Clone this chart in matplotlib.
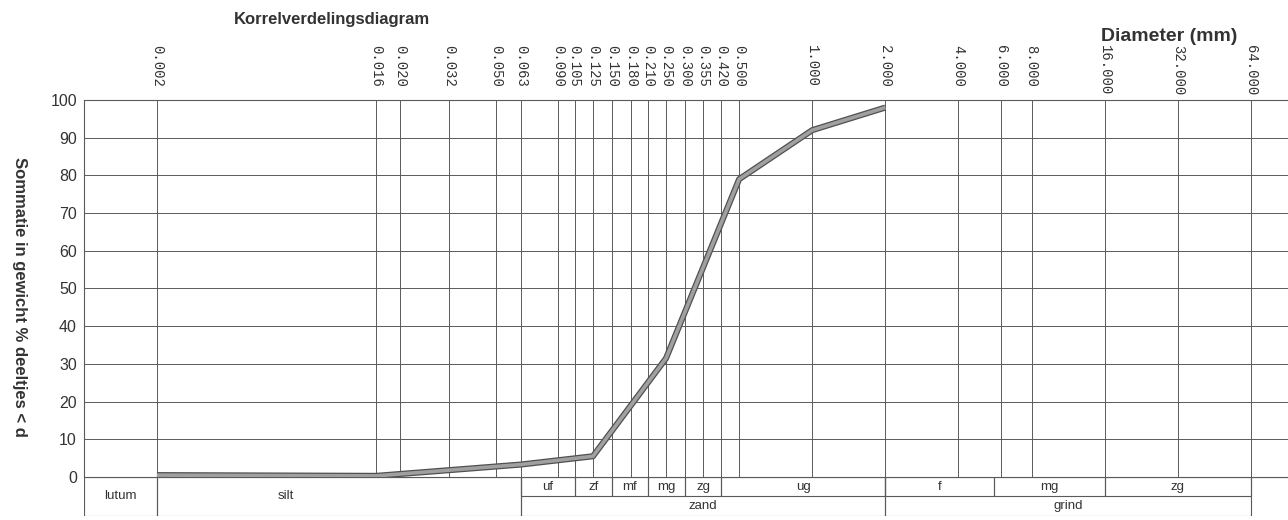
import matplotlib
matplotlib.use("Agg")
import matplotlib.pyplot as plt
import matplotlib.patheffects as pe
import matplotlib.transforms as mtransforms
from matplotlib.ticker import NullLocator

# sieve diameters (mm) and cumulative passing (%)
diameter = [0.002, 0.016, 0.063, 0.125, 0.250, 0.500, 1.000, 2.000]
passing = [0.5, 0.3, 3.3, 5.5, 31.5, 79.0, 92.0, 98.0]

# diameters marked on the grid
grid_d = [0.002, 0.016, 0.020, 0.032, 0.050, 0.063, 0.090, 0.105, 0.125,
          0.150, 0.180, 0.210, 0.250, 0.300, 0.355, 0.420, 0.500, 1.000,
          2.000, 4.000, 6.000, 8.000, 16.000, 32.000, 64.000]
grid_labels = ["%.3f" % d for d in grid_d]

# soil class table (NEN 5104): name, lower, upper, text position
full_cells = [("lutum", 0.001, 0.002, 0.00141), ("silt", 0.002, 0.063, 0.0068)]
sub_cells = [("uf", 0.063, 0.105, None), ("zf", 0.105, 0.150, None),
             ("mf", 0.150, 0.210, None), ("mg", 0.210, 0.300, None),
             ("zg", 0.300, 0.420, None), ("ug", 0.420, 2.0, None),
             ("f", 2.0, 5.6, None), ("mg", 5.6, 16.0, None), ("zg", 16.0, 64.0, None)]
main_cells = [("zand", 0.063, 2.0, None), ("grind", 2.0, 64.0, None)]

txt = "#333333"
line_c = "#5a5a5a"
xmin, xmax = 0.001, 91.1

fig = plt.figure(figsize=(12.88, 5.2), dpi=100)
ax = fig.add_axes([0.0651, 0.0827, 0.9349, 0.725])
ax.set_xscale("log")
ax.set_xlim(xmin, xmax)
ax.set_ylim(0, 100)

ax.set_xticks(grid_d)
ax.xaxis.set_minor_locator(NullLocator())
ax.tick_params(axis="x", length=0, labelbottom=False, labeltop=False)
ax.set_yticks(range(0, 101, 10))
ax.tick_params(axis="y", length=0, pad=5, labelsize=11.5, labelcolor=txt)
for lab in ax.get_yticklabels():
    lab.set_fontfamily("Liberation Sans")
ax.grid(True, color=line_c, linewidth=0.7)
for side in ["left", "top", "bottom"]:
    ax.spines[side].set_color(line_c)
    ax.spines[side].set_linewidth(0.8)
ax.spines["right"].set_visible(False)

ax.plot(diameter, passing, color="#a0a0a0", linewidth=2.6, zorder=5,
        solid_capstyle="butt",
        path_effects=[pe.Stroke(linewidth=4.4, foreground="#505050"), pe.Normal()])

# rotated diameter labels along the top
trans = mtransforms.blended_transform_factory(ax.transData, fig.transFigure)
for d, lab in zip(grid_d, grid_labels):
    ax.text(d, 0.913, lab, transform=trans, rotation=270, ha="center", va="top",
            family="Liberation Mono", fontsize=10, color=txt)

fig.text(0.258, 0.962, "Korrelverdelingsdiagram", ha="center", va="center",
         fontsize=12, fontweight="bold", color=txt, family="Liberation Sans")
fig.text(0.908, 0.929, "Diameter (mm)", ha="center", va="center",
         fontsize=14, fontweight="bold", color=txt, family="Liberation Sans")
fig.text(0.0155, 0.429, "Sommatie in gewicht % deeltjes < d", rotation=270,
         ha="center", va="center", fontsize=12, fontweight="bold", color=txt,
         family="Liberation Sans")

# classification table below the graph
tab = fig.add_axes([0.0651, 0.0077, 0.9349, 0.075], sharex=ax)
tab.set_ylim(0, 2)
tab.axis("off")
lw = 0.8


def cell_text(name, a, b, pos, y):
    x = pos if pos else (a * b) ** 0.5
    tab.text(x, y, name, ha="center", va="center", fontsize=9.5,
             color=txt, family="Liberation Sans")


tab.hlines(2, xmin, xmax, color=line_c, lw=lw)
tab.hlines(0, xmin, 64.0, color=line_c, lw=lw)
tab.hlines(1, 0.063, 64.0, color=line_c, lw=lw)
for name, a, b, pos in full_cells:
    tab.vlines([a, b], 0, 2, color=line_c, lw=lw)
    cell_text(name, a, b, pos, 1.0)
for name, a, b, pos in sub_cells:
    tab.vlines([a, b], 1, 2, color=line_c, lw=lw)
    cell_text(name, a, b, pos, 1.5)
for name, a, b, pos in main_cells:
    tab.vlines([a, b], 0, 2, color=line_c, lw=lw)
    cell_text(name, a, b, pos, 0.5)

fig.savefig("out.png", dpi=100)
